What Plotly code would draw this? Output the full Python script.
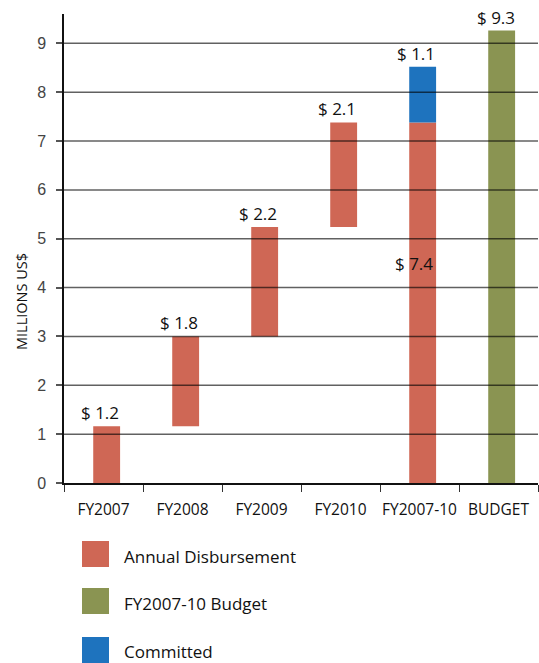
import plotly.graph_objects as go

# Data (millions of US$)
categories = ["FY2007", "FY2008", "FY2009", "FY2010", "FY2007-10", "BUDGET"]
annual_years = ["FY2007", "FY2008", "FY2009", "FY2010"]
annual_values = [1.16, 1.84, 2.24, 2.14]
committed_value = 1.14
budget_value = 9.26
y_ticks = list(range(0, 10))

legend_items = [
    ("Annual Disbursement", "#CF6755"),
    ("FY2007-10 Budget", "#8A9452"),
    ("Committed", "#1E73BE"),
]

RED, GREEN, BLUE = "#CF6755", "#8A9452", "#1E73BE"

# Waterfall bases: each year starts where the previous one ended
bases = []
running = 0.0
for v in annual_values:
    bases.append(running)
    running += v
total_disbursed = running

# Page geometry (px)
W, H = 539, 663
ML, MT, PW, PH = 64, 14, 474, 469
MB = H - MT - PH
MR = W - ML - PW


def px(x):
    return (x - ML) / PW


def py(y):
    return (MT + PH - y) / PH


BAR_W = 0.34
BAR_OFF = -BAR_W / 2 + 0.04

fig = go.Figure()

fig.add_trace(go.Bar(
    x=annual_years + ["FY2007-10"],
    y=annual_values + [total_disbursed],
    base=bases + [0],
    marker=dict(color=RED, line=dict(width=0)),
    width=BAR_W, offset=BAR_OFF,
    showlegend=False,
))
fig.add_trace(go.Bar(
    x=["FY2007-10"],
    y=[committed_value],
    base=[total_disbursed],
    marker=dict(color=BLUE, line=dict(width=0)),
    width=BAR_W, offset=BAR_OFF,
    showlegend=False,
))
fig.add_trace(go.Bar(
    x=["BUDGET"],
    y=[budget_value],
    base=[0],
    marker=dict(color=GREEN, line=dict(width=0)),
    width=BAR_W, offset=BAR_OFF,
    showlegend=False,
))

label_font = dict(family="Open Sans, sans-serif", size=17, color="#111")
annotations = []

# Value labels above each annual segment
for yr, v, b in zip(annual_years, annual_values, bases):
    annotations.append(dict(
        x=yr, y=b + v, text=f"$ {v:.1f}", showarrow=False,
        xref="x", yref="y", yanchor="bottom", xshift=-4, yshift=0,
        font=label_font,
    ))
annotations.append(dict(
    x="FY2007-10", y=total_disbursed + committed_value,
    text=f"$ {committed_value:.1f}", showarrow=False,
    xref="x", yref="y", yanchor="bottom", xshift=-4, yshift=0, font=label_font,
))
annotations.append(dict(
    x="FY2007-10", y=total_disbursed * 0.61,
    text=f"$ {total_disbursed:.1f}", showarrow=False,
    xref="x", yref="y", yanchor="middle", xshift=-6, font=label_font,
))
annotations.append(dict(
    x="BUDGET", y=budget_value,
    text=f"$ {budget_value:.1f}", showarrow=False,
    xref="x", yref="y", yanchor="bottom", xshift=-3, yshift=0, font=label_font,
))

# Vertical axis title
annotations.append(dict(
    x=px(22), y=py(302), xref="paper", yref="paper", showarrow=False,
    xanchor="center", yanchor="middle",
    text="MILLIONS US$", textangle=270,
    font=dict(family="Open Sans, sans-serif", size=14.5, color="#111"),
))

shapes = []
# Gridlines drawn over the bars
for t in y_ticks[1:]:
    shapes.append(dict(
        type="line", xref="paper", yref="y", x0=0, x1=1, y0=t, y1=t,
        line=dict(color="rgba(0,0,0,0.62)", width=1.5), layer="above",
    ))

# Legend block below the chart
row_centers = [554, 601, 650]
for (name, col), cy in zip(legend_items, row_centers):
    shapes.append(dict(
        type="rect", xref="paper", yref="paper",
        x0=px(82), x1=px(109), y0=py(cy + 13), y1=py(cy - 13),
        fillcolor=col, line=dict(width=0), layer="above",
    ))
    annotations.append(dict(
        x=px(122), y=py(cy + 2), xref="paper", yref="paper",
        xanchor="left", yanchor="middle", showarrow=False, text=name,
        font=dict(family="Open Sans, sans-serif", size=17, color="#111"),
    ))

fig.update_layout(
    width=W, height=H,
    margin=dict(l=ML, r=MR, t=MT, b=MB, pad=0),
    paper_bgcolor="white", plot_bgcolor="white",
    barmode="overlay",
    showlegend=False,
    annotations=annotations,
    shapes=shapes,
    xaxis=dict(
        type="category", categoryorder="array", categoryarray=categories,
        range=[-0.5, len(categories) - 0.5],
        showgrid=False, zeroline=False,
        showline=True, linecolor="#111", linewidth=1.5,
        ticks="outside", tickson="boundaries", ticklen=7, tickwidth=1.3,
        tickcolor="#333", tickangle=0,
        ticklabelstandoff=12,
        tickfont=dict(family="Open Sans, sans-serif", size=15.5, color="#111"),
    ),
    yaxis=dict(
        range=[0, 9.6],
        tickvals=y_ticks,
        showgrid=False, zeroline=False,
        showline=True, linecolor="#111", linewidth=1.5,
        ticks="outside", ticklen=6, tickwidth=1.5, tickcolor="#555",
        ticklabelstandoff=7,
        tickfont=dict(family="Liberation Sans Narrow, Arial Narrow, sans-serif",
                      size=16, color="#444"),
    ),
)

fig.write_html("out.html")
